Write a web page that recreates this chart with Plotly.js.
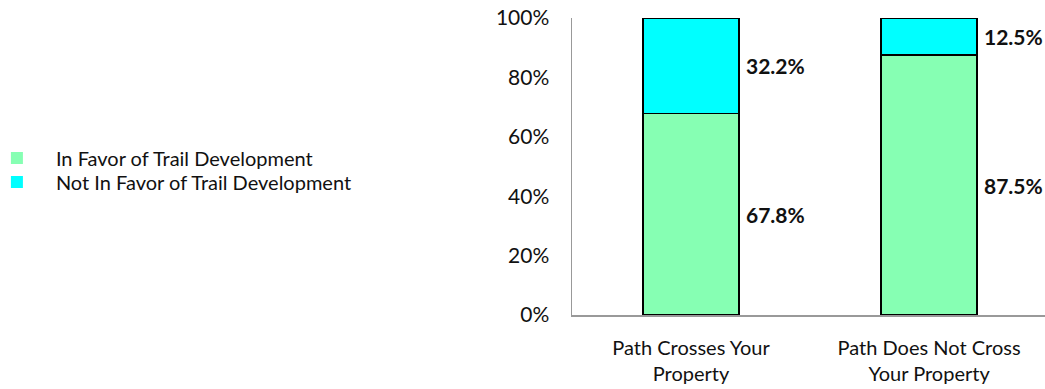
<!DOCTYPE html>
<html>
<head>
<meta charset="utf-8">
<script src="https://cdn.plot.ly/plotly-3.0.1.min.js"></script>
<style>html,body{margin:0;padding:0;background:#fff;}#chart{width:1045px;height:389px;}</style>
</head>
<body>
<div id="chart"></div>
<script>
const categories = ["Path Crosses Your<br>Property", "Path Does Not Cross<br>Your Property"];
const seriesNames = ["In Favor of Trail Development", "Not In Favor of Trail Development"];
const inFavor = [67.8, 87.5];
const notInFavor = [32.2, 12.5];
const colors = ["#86FFB3", "#00FFFF"];
const yTickVals = [0, 20, 40, 60, 80, 100];
const yTickText = ["0%", "20%", "40%", "60%", "80%", "100%"];

const allSeries = [inFavor, notInFavor];
const legendIds = ["legend", "legend2"];
const traces = [];
allSeries.forEach((vals, i) => {
  traces.push({
    type: "bar", x: categories, y: vals, name: seriesNames[i], showlegend: false,
    marker: {color: colors[i], line: {color: "#000", width: 1.5}},
    width: 0.403, hoverinfo: "skip"
  });
});
allSeries.forEach((vals, i) => {
  traces.push({
    type: "scatter", mode: "markers", x: [null], y: [null], name: seriesNames[i],
    marker: {symbol: "square", size: 12, color: colors[i]}, showlegend: true,
    legend: legendIds[i]
  });
});

const annotations = [];
categories.forEach((c, ci) => {
  let base = 0;
  allSeries.forEach((vals) => {
    const v = vals[ci];
    annotations.push({
      x: ci, y: base + v / 2, xref: "x", yref: "y", text: "<b>" + v.toFixed(1) + "%</b>",
      showarrow: false, xanchor: "left", yanchor: "middle", xshift: 53,
      font: {family: "Lato, 'DejaVu Sans', sans-serif", size: 21, color: "#111"}
    });
    base += v;
  });
});

const legendFont = {family: "Lato, sans-serif", size: 20, color: "#111"};
const legendBase = {
  xanchor: "left", yanchor: "middle", itemwidth: 68, font: legendFont,
  bgcolor: "rgba(0,0,0,0)", borderwidth: 0
};

const layout = {
  width: 1045, height: 389,
  margin: {l: 572, r: 0, t: 18, b: 74, pad: 0, autoexpand: false},
  paper_bgcolor: "#fff", plot_bgcolor: "#fff",
  barmode: "stack",
  showlegend: true,
  legend: Object.assign({}, legendBase, {x: -1.256, y: (315 - 158) / 297}),
  legend2: Object.assign({}, legendBase, {x: -1.256, y: (315 - 182) / 297}),
  xaxis: {
    type: "category", range: [-0.5, 1.487], showgrid: false, zeroline: false,
    showline: true, linecolor: "#999", linewidth: 1.5, ticks: "", ticklabelstandoff: 14,
    tickfont: {family: "Lato, sans-serif", size: 20, color: "#111"}, fixedrange: true
  },
  yaxis: {
    range: [0, 100], tickvals: yTickVals, ticktext: yTickText, showgrid: false, zeroline: false,
    showline: true, linecolor: "#999", linewidth: 1.5, ticks: "", ticklabelstandoff: 17,
    tickfont: {family: "Lato, sans-serif", size: 21, color: "#111"}, fixedrange: true
  },
  annotations: annotations
};

Plotly.newPlot("chart", traces, layout, {displayModeBar: false, staticPlot: true});
</script>
</body>
</html>
